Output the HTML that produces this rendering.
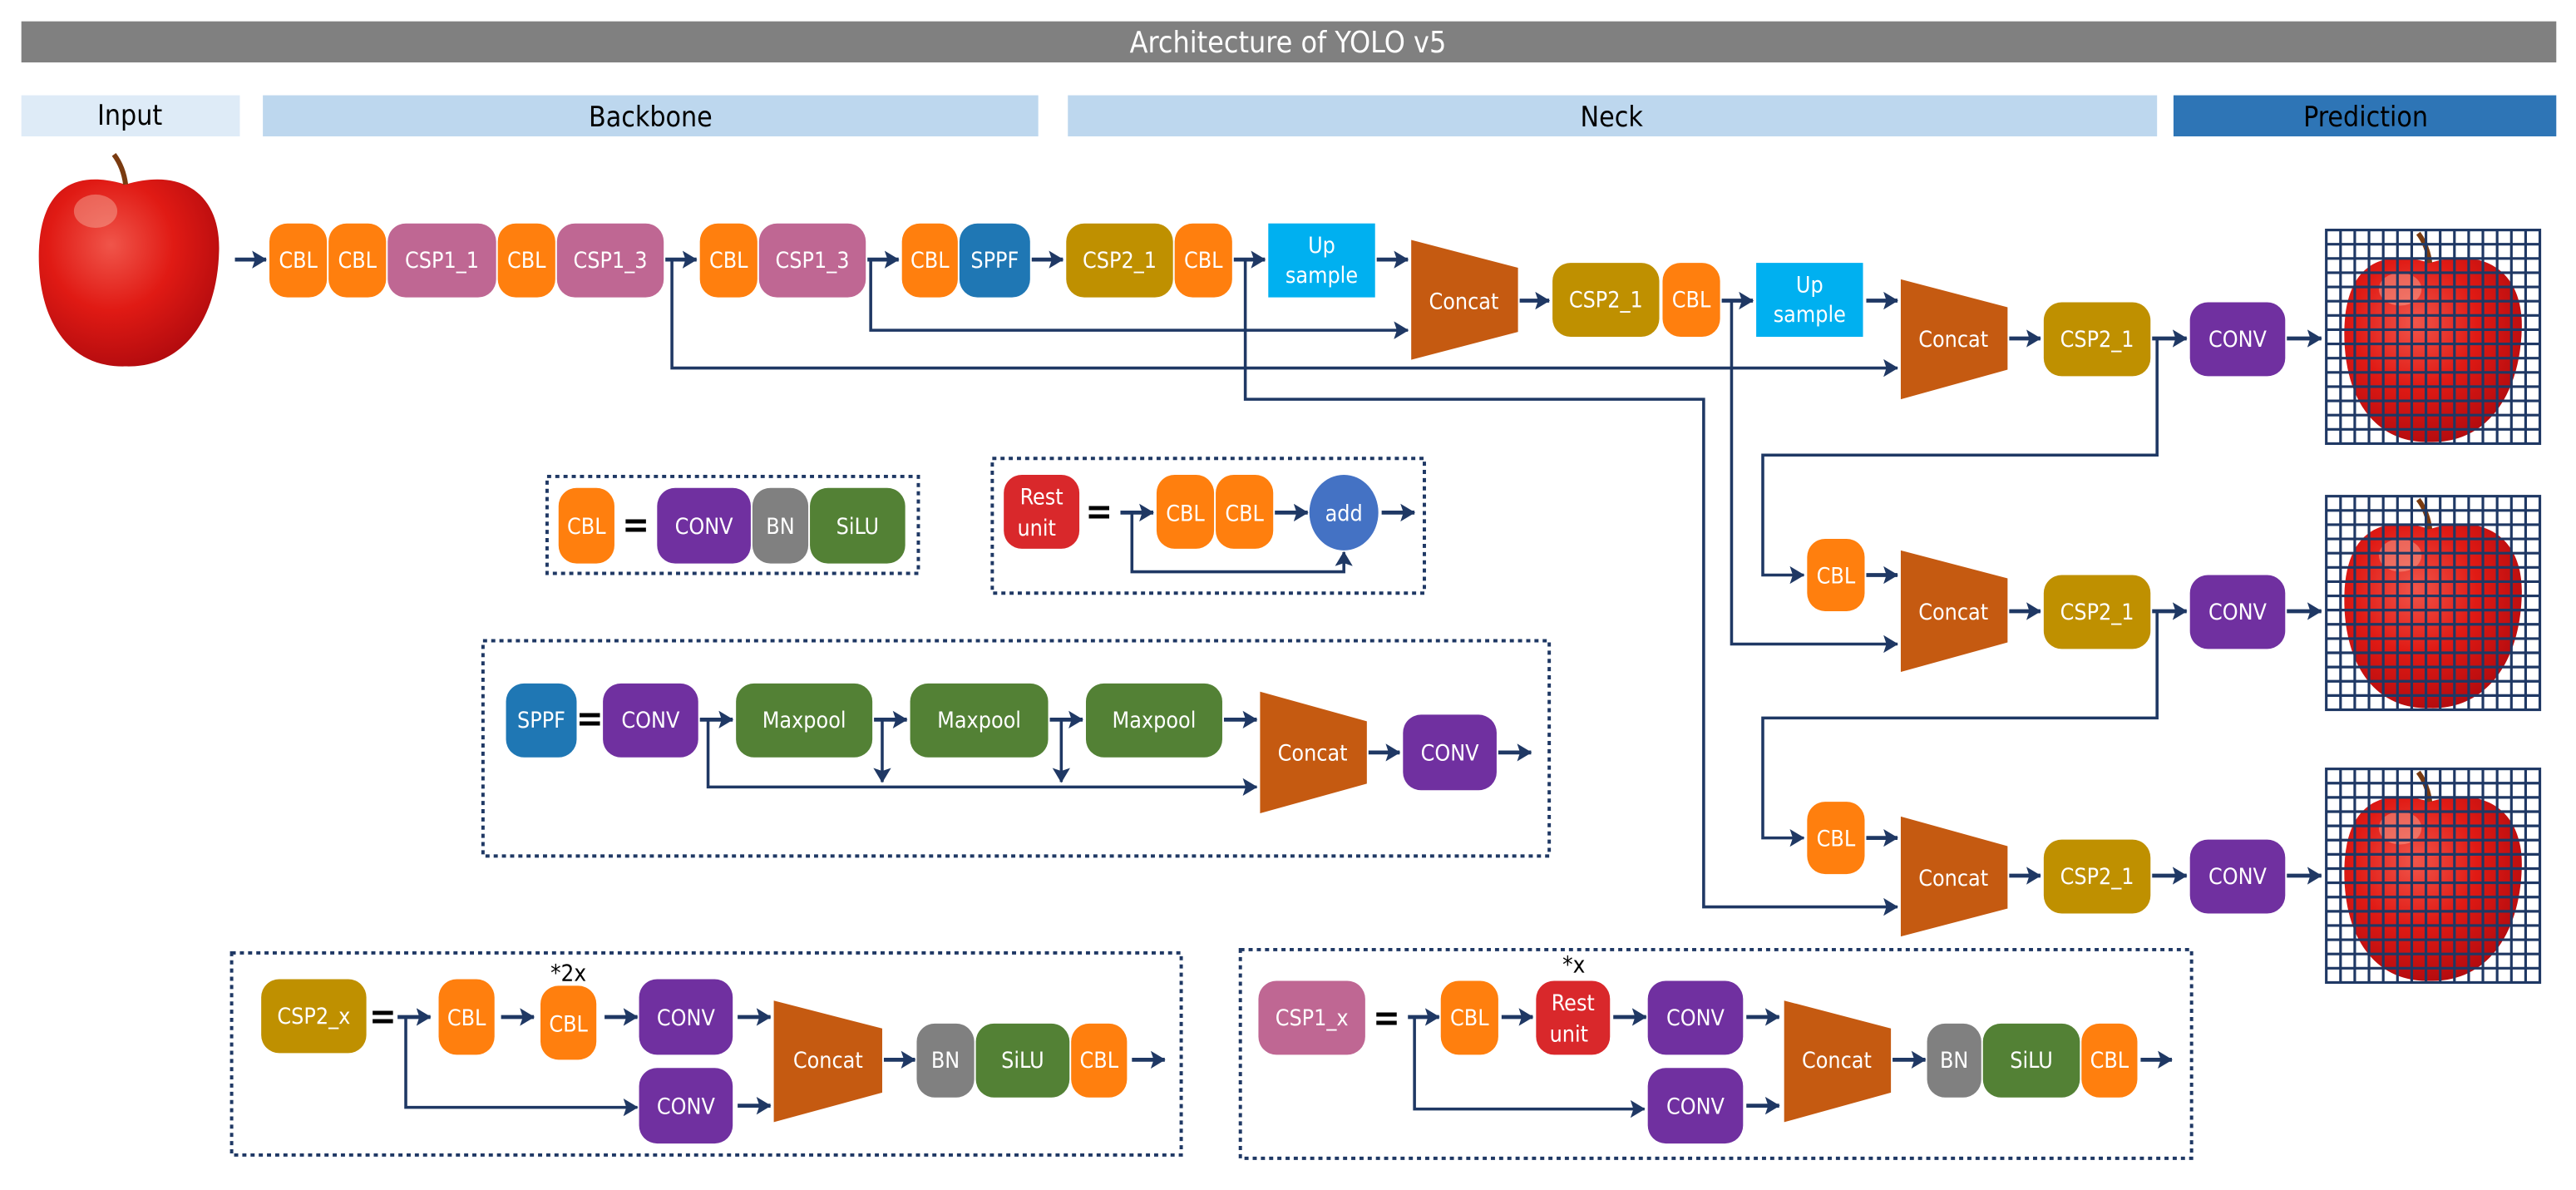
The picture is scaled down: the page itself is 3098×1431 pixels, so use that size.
<!DOCTYPE html>
<html><head><meta charset="utf-8"><style>
html,body{margin:0;padding:0;background:#fff}
svg{display:block}
text{font-family:"DejaVu Sans Condensed","DejaVu Sans","Liberation Sans",sans-serif}
.w{fill:#fff;font-size:13.5px;text-anchor:middle}
.h{fill:#000;font-size:17px;text-anchor:middle}
.a{stroke:#1f3864;stroke-width:2.4;fill:none;marker-end:url(#ar)}
.al{stroke:#1f3864;stroke-width:1.8;fill:none;marker-end:url(#ar)}
.d{stroke:#1f3864;stroke-width:2;fill:none;stroke-dasharray:2.5 2.5}
</style></head><body>
<svg width="3098" height="1431" viewBox="0 0 1568 724.3" preserveAspectRatio="none" xmlns="http://www.w3.org/2000/svg">
<defs>
<marker id="ar" viewBox="0 0 10 12" refX="9.5" refY="6" markerWidth="9" markerHeight="12" markerUnits="userSpaceOnUse" orient="auto"><path d="M0,0 L10,6 L0,12 L2,6 Z" fill="#1f3864"/></marker>
<radialGradient id="ap" cx="0.4" cy="0.35" r="0.7"><stop offset="0" stop-color="#f0554a"/><stop offset="0.5" stop-color="#e01a14"/><stop offset="1" stop-color="#b00a0e"/></radialGradient>
<symbol id="apple" viewBox="0 0 130 130"><path d="M63,20 C30,10 12,25 11,60 C10,100 28,130 63,129 C98,130 118,100 119,60 C120,25 96,10 63,20 Z" fill="url(#ap)"/><path d="M63,20 C62,12 59,6 56,2" stroke="#7a3b10" stroke-width="3" fill="none"/><ellipse cx="45" cy="36" rx="13" ry="10" fill="#f6b2a0" opacity="0.45"/></symbol>
<g id="grid" stroke="#1f3864" stroke-width="1.6" fill="none">
<rect x="0" y="0" width="130" height="130"/>
<path d="M8.67,0V130M17.33,0V130M26,0V130M34.67,0V130M43.33,0V130M52,0V130M60.67,0V130M69.33,0V130M78,0V130M86.67,0V130M95.33,0V130M104,0V130M112.67,0V130M121.33,0V130M0,8.67H130M0,17.33H130M0,26H130M0,34.67H130M0,43.33H130M0,52H130M0,60.67H130M0,69.33H130M0,78H130M0,86.67H130M0,95.33H130M0,104H130M0,112.67H130M0,121.33H130"/>
</g>
</defs>

<rect x="13" y="13" width="1543" height="25" fill="#808080"/>
<text x="784" y="32" style="fill:#fff;font-size:18px;text-anchor:middle">Architecture of YOLO v5</text>
<rect x="13" y="58" width="133" height="25" fill="#deebf7"/><text class="h" x="79" y="76">Input</text>
<rect x="160" y="58" width="472" height="25" fill="#bdd7ee"/><text class="h" x="396" y="77">Backbone</text>
<rect x="650" y="58" width="663" height="25" fill="#bdd7ee"/><text class="h" x="981" y="77">Neck</text>
<rect x="1323" y="58" width="233" height="25" fill="#2e75b6"/><text class="h" x="1440" y="77">Prediction</text>

<svg x="12" y="92" width="133" height="132" viewBox="0 0 130 130"><use href="#apple"/></svg>

<g>
<rect x="164" y="136" width="35" height="45" rx="11" fill="#ff7f0e"/><text class="w" x="181.5" y="163">CBL</text>
<rect x="200" y="136" width="35" height="45" rx="11" fill="#ff7f0e"/><text class="w" x="217.5" y="163">CBL</text>
<rect x="236" y="136" width="66" height="45" rx="11" fill="#bf6793"/><text class="w" x="269" y="163">CSP1_1</text>
<rect x="303" y="136" width="35" height="45" rx="11" fill="#ff7f0e"/><text class="w" x="320.5" y="163">CBL</text>
<rect x="339" y="136" width="65" height="45" rx="11" fill="#bf6793"/><text class="w" x="371.5" y="163">CSP1_3</text>
<rect x="426" y="136" width="35" height="45" rx="11" fill="#ff7f0e"/><text class="w" x="443.5" y="163">CBL</text>
<rect x="462" y="136" width="65" height="45" rx="11" fill="#bf6793"/><text class="w" x="494.5" y="163">CSP1_3</text>
<rect x="549" y="136" width="34" height="45" rx="11" fill="#ff7f0e"/><text class="w" x="566" y="163">CBL</text>
<rect x="584" y="136" width="43" height="45" rx="11" fill="#1f77b4"/><text class="w" x="605.5" y="163">SPPF</text>
<rect x="649" y="136" width="65" height="45" rx="11" fill="#bf9000"/><text class="w" x="681.5" y="163">CSP2_1</text>
<rect x="715" y="136" width="35" height="45" rx="11" fill="#ff7f0e"/><text class="w" x="732.5" y="163">CBL</text>
<rect x="772" y="136" width="65" height="45" fill="#00b0f0"/><text class="w" x="804.5" y="154">Up</text><text class="w" x="804.5" y="172">sample</text>
<path d="M859,146 L924,163 L924,202 L859,219 Z" fill="#c55a11"/><text class="w" x="891" y="188">Concat</text>
<rect x="945" y="160" width="65" height="45" rx="11" fill="#bf9000"/><text class="w" x="977.5" y="187">CSP2_1</text>
<rect x="1012" y="160" width="35" height="45" rx="11" fill="#ff7f0e"/><text class="w" x="1029.5" y="187">CBL</text>
<rect x="1069" y="160" width="65" height="45" fill="#00b0f0"/><text class="w" x="1101.5" y="178">Up</text><text class="w" x="1101.5" y="196">sample</text>
<path d="M1157,170 L1222,187 L1222,225 L1157,243 Z" fill="#c55a11"/><text class="w" x="1189" y="211">Concat</text>
<rect x="1244" y="184" width="65" height="45" rx="11" fill="#bf9000"/><text class="w" x="1276.5" y="211">CSP2_1</text>
<rect x="1333" y="184" width="58" height="45" rx="11" fill="#7030a0"/><text class="w" x="1362" y="211">CONV</text>
</g>
<path class="a" d="M143,158H162"/><path class="a" d="M405,158H424"/><path class="a" d="M528,158H547"/><path class="a" d="M628,158H647"/><path class="a" d="M751,158H770"/><path class="a" d="M838,158H857"/><path class="a" d="M925,183H943"/><path class="a" d="M1048,183H1067"/><path class="a" d="M1136,183H1155"/><path class="a" d="M1223,206H1242"/><path class="a" d="M1310,206H1331"/><path class="a" d="M1392,206H1413"/>
<path class="al" d="M530,158V201H857"/>
<path class="al" d="M409,158V224H1155"/>
<path class="al" d="M758,158V243H1037V552H1155"/>
<path class="al" d="M1054,183V392H1155"/>
<path class="al" d="M1313,206V277H1073V350H1098"/>
<path class="al" d="M1313,372V437H1073V510H1098"/>

<rect x="1100" y="328" width="35" height="44" rx="11" fill="#ff7f0e"/><text class="w" x="1117.5" y="355">CBL</text>
<path d="M1157,335 L1222,352 L1222,391 L1157,409 Z" fill="#c55a11"/><text class="w" x="1189" y="377">Concat</text>
<rect x="1244" y="350" width="65" height="45" rx="11" fill="#bf9000"/><text class="w" x="1276.5" y="377">CSP2_1</text>
<rect x="1333" y="350" width="58" height="45" rx="11" fill="#7030a0"/><text class="w" x="1362" y="377">CONV</text>
<path class="a" d="M1136,350H1155"/><path class="a" d="M1223,372H1242"/><path class="a" d="M1310,372H1331"/><path class="a" d="M1392,372H1413"/>
<rect x="1100" y="488" width="35" height="44" rx="11" fill="#ff7f0e"/><text class="w" x="1117.5" y="515">CBL</text>
<path d="M1157,497 L1222,515 L1222,553 L1157,570 Z" fill="#c55a11"/><text class="w" x="1189" y="539">Concat</text>
<rect x="1244" y="511" width="65" height="45" rx="11" fill="#bf9000"/><text class="w" x="1276.5" y="538">CSP2_1</text>
<rect x="1333" y="511" width="58" height="45" rx="11" fill="#7030a0"/><text class="w" x="1362" y="538">CONV</text>
<path class="a" d="M1136,510H1155"/><path class="a" d="M1223,533H1242"/><path class="a" d="M1310,533H1331"/><path class="a" d="M1392,533H1413"/>

<g transform="translate(1416,140)"><use href="#apple" width="130" height="130"/><use href="#grid"/></g>
<g transform="translate(1416,302)"><use href="#apple" width="130" height="130"/><use href="#grid"/></g>
<g transform="translate(1416,468)"><use href="#apple" width="130" height="130"/><use href="#grid"/></g>

<rect class="d" x="333" y="290" width="226" height="59"/>
<rect x="340" y="297" width="34" height="46" rx="11" fill="#ff7f0e"/><text class="w" x="357" y="325">CBL</text>
<text x="387" y="327" style="font-size:22px;font-weight:bold;text-anchor:middle">=</text>
<rect x="400" y="297" width="57" height="46" rx="11" fill="#7030a0"/><text class="w" x="428.5" y="325">CONV</text>
<rect x="458" y="297" width="34" height="46" rx="11" fill="#808080"/><text class="w" x="475" y="325">BN</text>
<rect x="493" y="297" width="58" height="46" rx="11" fill="#538135"/><text class="w" x="522" y="325">SiLU</text>

<rect class="d" x="604" y="279" width="263" height="82"/>
<rect x="611" y="289" width="46" height="45" rx="11" fill="#d9282b"/><text class="w" x="634" y="307">Rest</text><text class="w" x="631" y="326">unit</text>
<text x="669" y="319" style="font-size:22px;font-weight:bold;text-anchor:middle">=</text>
<rect x="704" y="289" width="35" height="45" rx="11" fill="#ff7f0e"/><text class="w" x="721.5" y="317">CBL</text>
<rect x="740" y="289" width="35" height="45" rx="11" fill="#ff7f0e"/><text class="w" x="757.5" y="317">CBL</text>
<ellipse cx="818" cy="312" rx="21" ry="23" fill="#4472c4"/><text class="w" x="818" y="317">add</text>
<path class="a" d="M682,312H702"/><path class="a" d="M776,312H796"/><path class="a" d="M841,312H861"/>
<path class="al" d="M689,312V348H818V336"/>

<rect class="d" x="294" y="390" width="649" height="131"/>
<rect x="308" y="416" width="43" height="45" rx="11" fill="#1f77b4"/><text class="w" x="329.5" y="443">SPPF</text>
<text x="359" y="445" style="font-size:22px;font-weight:bold;text-anchor:middle">=</text>
<rect x="367" y="416" width="58" height="45" rx="11" fill="#7030a0"/><text class="w" x="396" y="443">CONV</text>
<rect x="448" y="416" width="83" height="45" rx="11" fill="#538135"/><text class="w" x="489.5" y="443">Maxpool</text>
<rect x="554" y="416" width="84" height="45" rx="11" fill="#538135"/><text class="w" x="596" y="443">Maxpool</text>
<rect x="661" y="416" width="83" height="45" rx="11" fill="#538135"/><text class="w" x="702.5" y="443">Maxpool</text>
<path d="M767,421 L832,439 L832,477 L767,495 Z" fill="#c55a11"/><text class="w" x="799" y="463">Concat</text>
<rect x="854" y="435" width="57" height="46" rx="11" fill="#7030a0"/><text class="w" x="882.5" y="463">CONV</text>
<path class="a" d="M426,438H446"/><path class="a" d="M532,438H552"/><path class="a" d="M639,438H659"/><path class="a" d="M745,438H765"/><path class="a" d="M833,458H852"/><path class="a" d="M912,458H932"/>
<path class="al" d="M431,438V479H765"/><path class="al" d="M537,438V476"/><path class="al" d="M646,438V476"/>

<rect class="d" x="141" y="580" width="578" height="123"/>
<rect x="159" y="596" width="64" height="45" rx="11" fill="#bf9000"/><text class="w" x="191" y="623">CSP2_x</text>
<text x="233" y="626" style="font-size:22px;font-weight:bold;text-anchor:middle">=</text>
<rect x="267" y="596" width="34" height="46" rx="11" fill="#ff7f0e"/><text class="w" x="284" y="624">CBL</text>
<rect x="329" y="600" width="34" height="45" rx="11" fill="#ff7f0e"/><text class="w" x="346" y="628">CBL</text>
<text x="346" y="597" style="font-size:14px;text-anchor:middle">*2x</text>
<rect x="389" y="596" width="57" height="46" rx="11" fill="#7030a0"/><text class="w" x="417.5" y="624">CONV</text>
<rect x="389" y="650" width="57" height="46" rx="11" fill="#7030a0"/><text class="w" x="417.5" y="678">CONV</text>
<path d="M471,609 L537,626 L537,665 L471,683 Z" fill="#c55a11"/><text class="w" x="504" y="650">Concat</text>
<rect x="558" y="623" width="35" height="45" rx="11" fill="#808080"/><text class="w" x="575.5" y="650">BN</text>
<rect x="594" y="623" width="57" height="45" rx="11" fill="#538135"/><text class="w" x="622.5" y="650">SiLU</text>
<rect x="652" y="623" width="34" height="45" rx="11" fill="#ff7f0e"/><text class="w" x="669" y="650">CBL</text>
<path class="a" d="M242,619H262"/><path class="a" d="M305,619H325"/><path class="a" d="M368,619H388"/><path class="a" d="M449,619H469"/><path class="a" d="M449,673H469"/><path class="a" d="M538,645H557"/><path class="a" d="M689,645H709"/>
<path class="al" d="M247,619V674H388"/>

<rect class="d" x="755" y="578" width="579" height="127"/>
<rect x="766" y="597" width="65" height="45" rx="11" fill="#bf6793"/><text class="w" x="798.5" y="624">CSP1_x</text>
<text x="844" y="627" style="font-size:22px;font-weight:bold;text-anchor:middle">=</text>
<rect x="877" y="597" width="35" height="45" rx="11" fill="#ff7f0e"/><text class="w" x="894.5" y="624">CBL</text>
<rect x="935" y="597" width="45" height="45" rx="11" fill="#d9282b"/><text class="w" x="957.5" y="615">Rest</text><text class="w" x="955" y="634">unit</text>
<text x="958" y="592" style="font-size:14px;text-anchor:middle">*x</text>
<rect x="1003" y="597" width="58" height="45" rx="11" fill="#7030a0"/><text class="w" x="1032" y="624">CONV</text>
<rect x="1003" y="650" width="58" height="46" rx="11" fill="#7030a0"/><text class="w" x="1032" y="678">CONV</text>
<path d="M1086,609 L1151,626 L1151,665 L1086,683 Z" fill="#c55a11"/><text class="w" x="1118" y="650">Concat</text>
<rect x="1173" y="623" width="33" height="45" rx="11" fill="#808080"/><text class="w" x="1189.5" y="650">BN</text>
<rect x="1207" y="623" width="59" height="45" rx="11" fill="#538135"/><text class="w" x="1236.5" y="650">SiLU</text>
<rect x="1267" y="623" width="34" height="45" rx="11" fill="#ff7f0e"/><text class="w" x="1284" y="650">CBL</text>
<path class="a" d="M857,619H876"/><path class="a" d="M914,619H933"/><path class="a" d="M982,619H1002"/><path class="a" d="M1063,619H1083"/><path class="a" d="M1063,673H1083"/><path class="a" d="M1152,645H1172"/><path class="a" d="M1303,645H1322"/>
<path class="al" d="M861,619V675H1001"/>
</svg>
</body></html>
